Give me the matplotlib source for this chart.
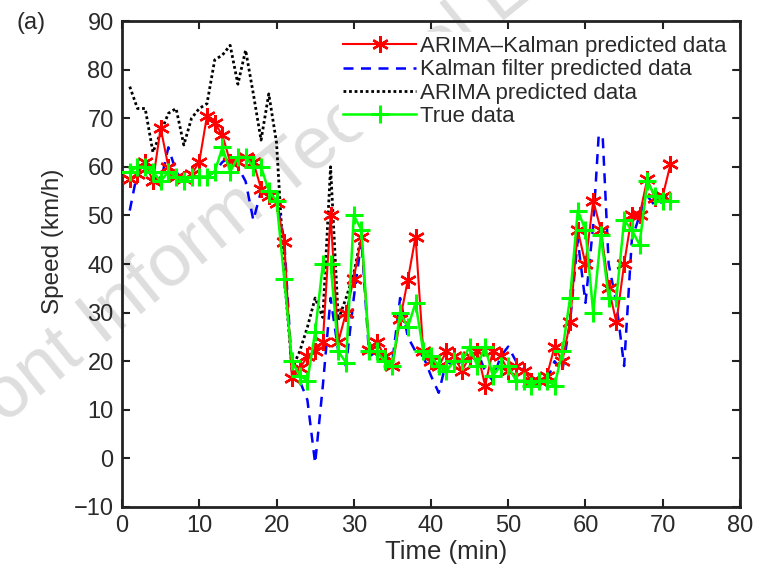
import matplotlib
matplotlib.use("Agg")
import matplotlib.pyplot as plt
import numpy as np

plt.rcParams['font.family'] = ['Liberation Sans', 'DejaVu Sans']

t = list(range(1, 72))

arima_kalman = [57.5, 58.5, 61, 57, 68, 60, 58, 57.5, 58.5, 61,
                70.5, 69, 66.5, 61, 61, 62, 61, 55.5, 54, 52.5,
                44.6, 16.5, 18.5, 21, 22, 24, 50, 24, 30, 37,
                45.6, 22.4, 24, 21, 19, 28.6, 36.7, 45.6, 22, 20,
                19, 22, 21, 18, 21, 22, 15, 22, 21, 18,
                19, 18, 16, 16, 17, 23, 20, 28, 47, 40,
                53, 47, 35, 28, 40, 50, 50, 57.5, 53.5, 54,
                60.5]

kalman = [51, 59, 61, 58, 57, 64, 59, 57, 58, 58,
          58, 59, 61, 62, 60, 57, 49, 55, 54, 53,
          45, 18, 16, 12, -1, 15, 33, 22, 19, 33,
          45, 21, 22, 21, 20, 33, 25, 22, 21, 17,
          13.5, 20, 19, 20, 20, 22, 18, 16, 21, 23,
          20, 18, 17, 15, 16, 20, 18, 28, 45, 32,
          48, 74, 40, 32, 19, 45, 50, 54, 52, 53,
          55]

arima_t = list(range(1, 32))
arima = [76.5, 72, 72, 63, 67, 71, 72, 64.5, 70, 72,
         73, 82, 83, 85, 77, 84, 75, 65.5, 75, 65,
         38, 18.5, 22, 27, 33, 29, 60, 28.5, 33, 38,
         46]

true_data = [59, 60, 60, 59, 57, 59, 58, 57, 58, 58,
             58, 59, 64, 59, 62, 62, 60, 60, 55, 53,
             37, 20, 17, 16, 26, 40, 40, 22, 19.7, 50,
             47, 22, 22, 20, 19, 30, 27, 32, 22, 21,
             19, 18, 20, 20, 23, 19, 23, 17, 19, 19,
             16, 16, 15, 16, 16, 15, 22, 33, 51, 47,
             30, 46, 33, 33, 49, 47, 44, 57, 54, 53,
             53]

fig = plt.figure(figsize=(7.57, 5.68), dpi=100)
ax = fig.add_axes([0.1612, 0.1074, 0.8163, 0.8556])
ax.patch.set_alpha(0)

# faint journal watermark behind the plot
fig.text(-0.067, 0.174, "Front Inform Technol Electron Eng", fontsize=54,
         color='#dedede', rotation=39, rotation_mode='anchor',
         ha='left', va='baseline', zorder=-1)

ax.plot(arima_t, arima, color='black', linestyle=(0, (1, 1)), linewidth=2,
        label='ARIMA predicted data', zorder=2)
ax.plot(t, kalman, color='#0000ff', linestyle=(0, (4, 3)), linewidth=1.8,
        label='Kalman filter predicted data', zorder=3)
ax.plot(t, arima_kalman, color='#ff0000', linestyle='-', linewidth=1.5,
        marker=(6, 2, 0), markersize=12, markeredgewidth=1.7,
        label='ARIMA–Kalman predicted data', zorder=4)
ax.plot(t, true_data, color='#00ff00', linestyle='-', linewidth=1.8,
        marker='+', markersize=13, markeredgewidth=2.2,
        label='True data', zorder=5)

ax.set_xlim(0, 80)
ax.set_ylim(-10, 90)
ax.set_xticks(np.arange(0, 81, 10))
ax.set_yticks(np.arange(-10, 91, 10))
ax.tick_params(direction='in', top=True, right=True, length=6, width=1.5,
               labelsize=17, colors='#222222', labelcolor='#2a2a2a')
ax.tick_params(axis='y', pad=6)
ax.tick_params(axis='x', pad=6)
for s in ax.spines.values():
    s.set_linewidth(2)
    s.set_color('#222222')
ax.set_xlabel('Time (min)', fontsize=18.5, color='#2a2a2a', va='center')
ax.set_ylabel('Speed (km/h)', fontsize=17.5, color='#2a2a2a', va='center')
ax.xaxis.set_label_coords(0.524, -0.093)
ax.yaxis.set_label_coords(-0.112, 0.547)

handles, labels = ax.get_legend_handles_labels()
order = [2, 1, 0, 3]
leg = ax.legend([handles[i] for i in order], [labels[i] for i in order],
                loc='upper right', bbox_to_anchor=(0.985, 0.978), fontsize=16,
                frameon=True, framealpha=1, edgecolor='white', fancybox=False,
                handlelength=3.3, handletextpad=0.15, labelspacing=0.1,
                borderpad=0.2, borderaxespad=0)
for txt in leg.get_texts():
    txt.set_color('#2a2a2a')

fig.text(0.022, 0.96, '(a)', fontsize=17, ha='left', va='center', color='#2a2a2a')

fig.savefig('out.png', dpi=100)
